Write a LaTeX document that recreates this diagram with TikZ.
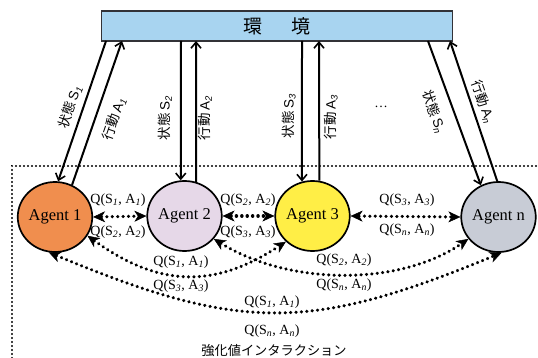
\documentclass[tikz,border=0pt]{standalone}
\usepackage{fontspec}
\setmainfont{Liberation Serif}
\newfontfamily\jpfont{Noto Sans CJK JP}
\newfontfamily\lsfont{Liberation Sans}
\usetikzlibrary{arrows.meta,shapes.geometric}
\definecolor{envblue}{RGB}{168,212,240}
\definecolor{envline}{RGB}{50,50,55}
\definecolor{agorange}{RGB}{240,142,78}
\definecolor{aglav}{RGB}{230,216,232}
\definecolor{agyellow}{RGB}{255,238,70}
\definecolor{aggray}{RGB}{200,204,214}
\newcommand\qlab[2]{Q(S\textsubscript{\itshape #1}, A\textsubscript{\itshape #2})}
\newcommand\alab[3]{{\jpfont #1}\,{\lsfont #2\textsubscript{\itshape #3}}}
\begin{document}
\begin{tikzpicture}[x=1pt,y=-1pt,
  agent/.style={ellipse, draw, line width=1.7pt, minimum width=74pt, minimum height=70pt, inner sep=0pt, font=\fontsize{16.5}{18}\selectfont},
  envbox/.style={rectangle, draw=envline, fill=envblue, line width=1.5pt, minimum width=351pt, minimum height=30pt, inner sep=0pt, font=\jpfont\fontsize{19}{21}\selectfont},
  solidarr/.style={line width=2pt, -{Straight Barb[length=6pt,width=10pt,line width=1.6pt]}},
  qarrow/.style={line width=3.3pt, line cap=round, dash pattern=on 0.2pt off 5.2pt, {Stealth[length=12pt,width=11pt,inset=3.5pt,line width=0.5pt]}-{Stealth[length=12pt,width=11pt,inset=3.5pt,line width=0.5pt]}},
  dotframe/.style={line width=2.2pt, line cap=round, dash pattern=on 0.1pt off 3.9pt},
  qlabel/.style={inner sep=0pt, font=\fontsize{14}{16}\selectfont},
  alabel/.style={inner sep=0pt, font=\fontsize{13.5}{15}\selectfont},
  title/.style={inner sep=0pt, font=\jpfont\fontsize{13.2}{15}\selectfont}
]
\useasboundingbox (0,0) rectangle (538,358);
\fill[white] (0,0) rectangle (538,358);

% dotted frame
\coordinate (fbl) at (12,358);
\coordinate (ftl) at (12,166);
\coordinate (ftr) at (538,166);
\draw[dotframe] (fbl) -- (ftl) -- (ftr);

% environment
\node[envbox] (env) at (277,26) {環\hspace{29pt}境};

% agents
\node[agent, fill=agorange] (a1) at (55,217) {Agent 1};
\node[agent, fill=aglav] (a2) at (184.5,216) {Agent 2};
\node[agent, fill=agyellow] (a3) at (312.5,216) {Agent 3};
\node[agent, fill=aggray] (an) at (498.5,217) {Agent n};

% attachment points on environment
\coordinate (e1s) at (106,41);
\coordinate (e1a) at (122,41);
\coordinate (e2s) at (181,41);
\coordinate (e2a) at (196,41);
\coordinate (e3s) at (302,41);
\coordinate (e3a) at (319,41);
\coordinate (ens) at (428,41);
\coordinate (ena) at (450,41);

% state / action arrows
\draw[solidarr] (e1s) -- (a1.85);
\draw[solidarr] (a1.62) -- (e1a);
\draw[solidarr] (e2s) -- (a2.96);
\draw[solidarr] (a2.71) -- (e2a);
\draw[solidarr] (e3s) -- (a3.107);
\draw[solidarr] (a3.79) -- (e3a);
\draw[solidarr] (ens) -- (an.119);
\draw[solidarr] (an.92) -- (ena);

% arrow labels
\node[alabel, rotate=71] (l1s) at (70,107) {\alab{状態}{S}{1}};
\node[alabel, rotate=71] (l1a) at (114,119) {\alab{行動}{A}{1}};
\node[alabel, rotate=90] (l2s) at (165,118) {\alab{状態}{S}{2}};
\node[alabel, rotate=90] (l2a) at (205,118) {\alab{行動}{A}{2}};
\node[alabel, rotate=90] (l3s) at (289,116) {\alab{状態}{S}{3}};
\node[alabel, rotate=90] (l3a) at (331,117) {\alab{行動}{A}{3}};
\node[alabel] (dots) at (381,107) {…};
\node[alabel, rotate=-70] (lns) at (434,112) {\alab{状態}{S}{n}};
\node[alabel, rotate=-70] (lna) at (483,102) {\alab{行動}{A}{n}};

% interaction arrows
\draw[qarrow] (a1.east) -- (a2.west);
\draw[qarrow] (a2.east) -- (a3.west);
\draw[qarrow] (a3.east) -- (an.west);
\draw[qarrow] (a1.-30) .. controls (160,288) and (215,288) .. (a3.-136);
\draw[qarrow] (a2.-38) .. controls (290,286) and (400,286) .. (an.-144);
\draw[qarrow] (a1.-100) .. controls (240,332) and (310,332) .. (an.-85);

% Q labels
\node[qlabel] (q12a) at (118,200) {\qlab{1}{1}};
\node[qlabel] (q12b) at (118,232) {\qlab{2}{2}};
\node[qlabel] (q23a) at (248,200) {\qlab{2}{2}};
\node[qlabel] (q23b) at (248,232) {\qlab{3}{3}};
\node[qlabel] (q3na) at (407,200) {\qlab{3}{3}};
\node[qlabel] (q3nb) at (407,230) {\qlab{n}{n}};
\node[qlabel] (q13a) at (181,262) {\qlab{1}{1}};
\node[qlabel] (q13b) at (181,286) {\qlab{3}{3}};
\node[qlabel] (q2na) at (344,260) {\qlab{2}{2}};
\node[qlabel] (q2nb) at (344,285) {\qlab{n}{n}};
\node[qlabel] (q1na) at (272,302) {\qlab{1}{1}};
\node[qlabel] (q1nb) at (272,331) {\qlab{n}{n}};

\node[title] (ttl) at (274,351) {強化値インタラクション};
\end{tikzpicture}
\end{document}
